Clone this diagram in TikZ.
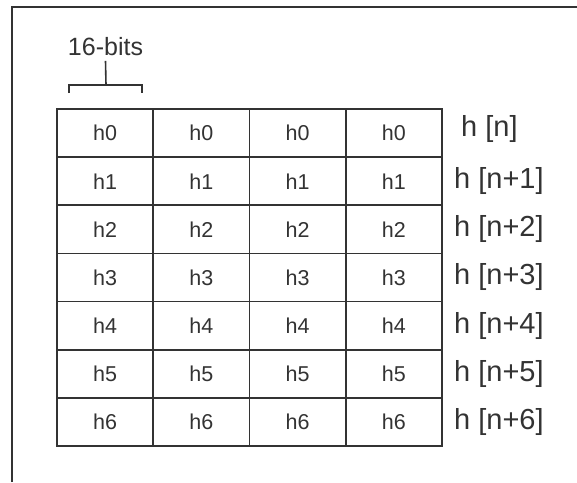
\documentclass[tikz,border=0pt]{standalone}
\usepackage{fontspec}
\setmainfont{Liberation Sans}
\usetikzlibrary{positioning}

\begin{document}
\begin{tikzpicture}[
  x=1pt, y=-1pt,
  every node/.style={text=black!80},
  cell/.style={draw=black!80, line width=1.6pt, minimum width=96.25pt,
    minimum height=48.14pt, inner sep=0pt, outer sep=0pt,
    font=\fontsize{21.5}{21.5}\selectfont},
  lbl/.style={inner sep=0pt, font=\fontsize{29}{29}\selectfont},
  ln/.style={draw=black!80, line width=1.6pt}
]
  \useasboundingbox (0,0) rectangle (577,482);
  % frame, open at right and bottom
  \coordinate (tl) at (12,7);
  \coordinate (fb) at (12,482);
  \coordinate (fr) at (577,7);
  \draw[ln, line width=2.2pt] (fb) -- (tl) -- (fr);

  % the table of coefficients
  \foreach \r in {0,...,6}{
    \foreach \c in {0,...,3}
      \node[cell] (c\r\c) at ({57+96.25*(\c+0.5)}, {109+48.14*(\r+0.5)}) {h\r};
  }

  % row labels
  \node[lbl, right=12pt of c03, xshift=7pt, yshift=4pt] (l0) {h [n]};
  \foreach \r in {1,...,6}
    \node[lbl, right=12pt of c\r3] (l\r) {h [n+\r]};

  % bracket over the first column
  \node[inner sep=0pt, font=\fontsize{25}{25}\selectfont] (bits) at (105.5,46.5) {16-bits};
  \coordinate (brm) at (106,85);
  \coordinate (brl) at (69,93);
  \coordinate (brr) at (142,93);
  \draw[ln] (brl) -- ++(0,-8) -| (brr);
  \draw[ln] ([yshift=-5pt]bits.south) -- (brm);
\end{tikzpicture}
\end{document}
